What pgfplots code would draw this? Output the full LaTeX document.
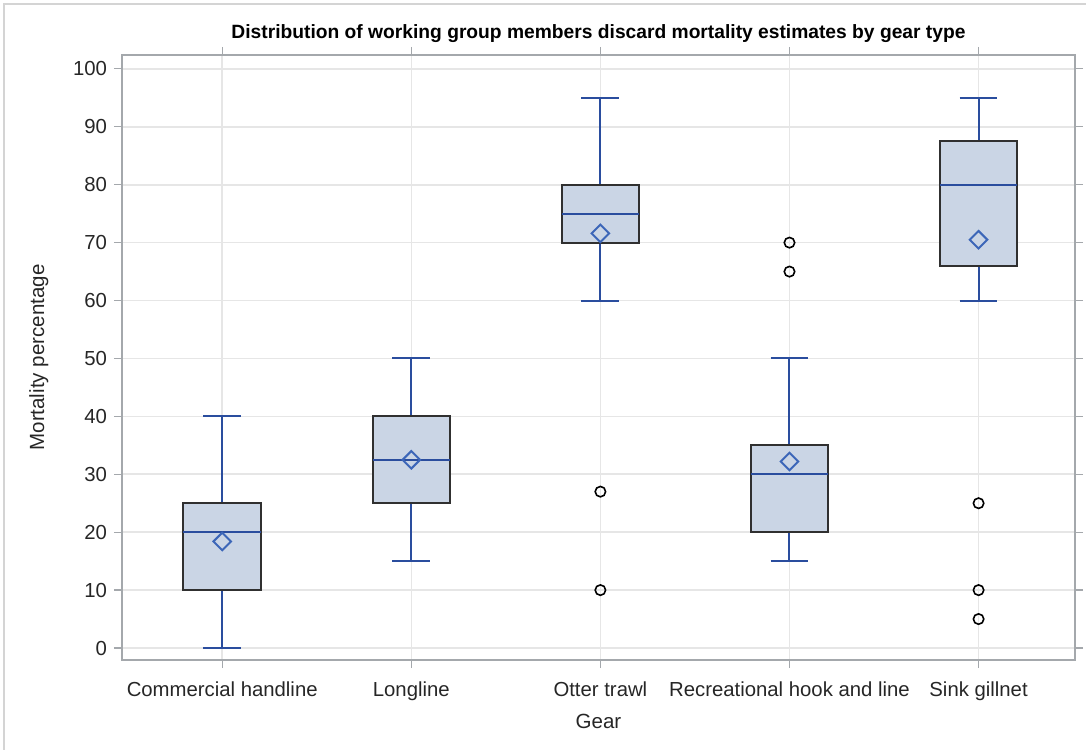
\documentclass[border=0pt]{standalone}
\usepackage{fontspec}
\setmainfont{Liberation Sans}
\usepackage{pgfplots}
\pgfplotsset{compat=1.18}
\usepgfplotslibrary{statistics}
\definecolor{boxfill}{HTML}{CAD5E5}
\definecolor{whisk}{HTML}{2A4D9E}
\definecolor{meanc}{HTML}{3C66B8}
\definecolor{gridc}{HTML}{E6E6E6}
\definecolor{axisc}{HTML}{A4A8AC}
\definecolor{boxline}{HTML}{303030}
\definecolor{framec}{HTML}{D4D4D4}
\begin{document}
\begin{tikzpicture}
\useasboundingbox (-61bp,-45bp) rectangle (482bp,330bp);
\draw[framec, line width=0.7bp] (-59bp,-46bp) -- (-59bp,328bp) -- (483bp,328bp);
\begin{axis}[
  scale only axis, width=476.5bp, height=302.5bp,
  xmin=-0.53, xmax=4.51, ymin=-2.07, ymax=102.4,
  xtick={0,1,2,3,4},
  xticklabels={Commercial handline, Longline, Otter trawl, Recreational hook and line, Sink gillnet},
  ytick={0,10,...,100},
  tick align=outside, major tick length=4bp,
  tick style={axisc, line width=0.6bp},
  axis line style={axisc, line width=0.8bp},
  grid=major, grid style={gridc, line width=0.8bp},
  xlabel={Gear}, ylabel={Mortality percentage},
  title={\bfseries Distribution of working group members discard mortality estimates by gear type},
  title style={font=\fontsize{9.65}{11}\selectfont, yshift=-3.5bp},
  ticklabel style={font=\fontsize{10.2}{12}\selectfont, text=black!85},
  xticklabel style={yshift=-3.5bp},
  label style={font=\fontsize{10.3}{12}\selectfont, text=black!85},
  ylabel style={yshift=5.5bp},
  /pgf/number format/assume math mode=true,
  boxplot/draw direction=y,
  boxplot/box extend=0.41,
  boxplot/whisker extend=0.2,
  boxplot/every box/.style={draw=boxline, fill=boxfill, line width=1bp},
  boxplot/every whisker/.style={draw=whisk, line width=1bp},
  boxplot/every median/.style={draw=whisk, line width=1bp},
]
\addplot[whisk, mark=o, mark size=2.6bp, mark options={draw=black, fill=white, solid, line width=0.8bp},
  boxplot prepared={draw position=0, lower whisker=0, lower quartile=10, median=20, upper quartile=25, upper whisker=40}]
  coordinates {};
\addplot[whisk, mark=o, mark size=2.6bp, mark options={draw=black, fill=white, solid, line width=0.8bp},
  boxplot prepared={draw position=1, lower whisker=15, lower quartile=25, median=32.5, upper quartile=40, upper whisker=50}]
  coordinates {};
\addplot[whisk, mark=o, mark size=2.6bp, mark options={draw=black, fill=white, solid, line width=0.8bp},
  boxplot prepared={draw position=2, lower whisker=60, lower quartile=70, median=75, upper quartile=80, upper whisker=95}]
  table[row sep=\\, y index=0] {27\\10\\};
\addplot[whisk, mark=o, mark size=2.6bp, mark options={draw=black, fill=white, solid, line width=0.8bp},
  boxplot prepared={draw position=3, lower whisker=15, lower quartile=20, median=30, upper quartile=35, upper whisker=50}]
  table[row sep=\\, y index=0] {70\\65\\};
\addplot[whisk, mark=o, mark size=2.6bp, mark options={draw=black, fill=white, solid, line width=0.8bp},
  boxplot prepared={draw position=4, lower whisker=60, lower quartile=66, median=80, upper quartile=87.5, upper whisker=95}]
  table[row sep=\\, y index=0] {25\\10\\5\\};
% means
\addplot[only marks, mark=square, mark size=3.1bp, mark options={rotate=45, draw=meanc, line width=1bp}]
  coordinates {(0,18.4) (1,32.5) (2,71.6) (3,32.2) (4,70.5)};
\end{axis}
\end{tikzpicture}
\end{document}
